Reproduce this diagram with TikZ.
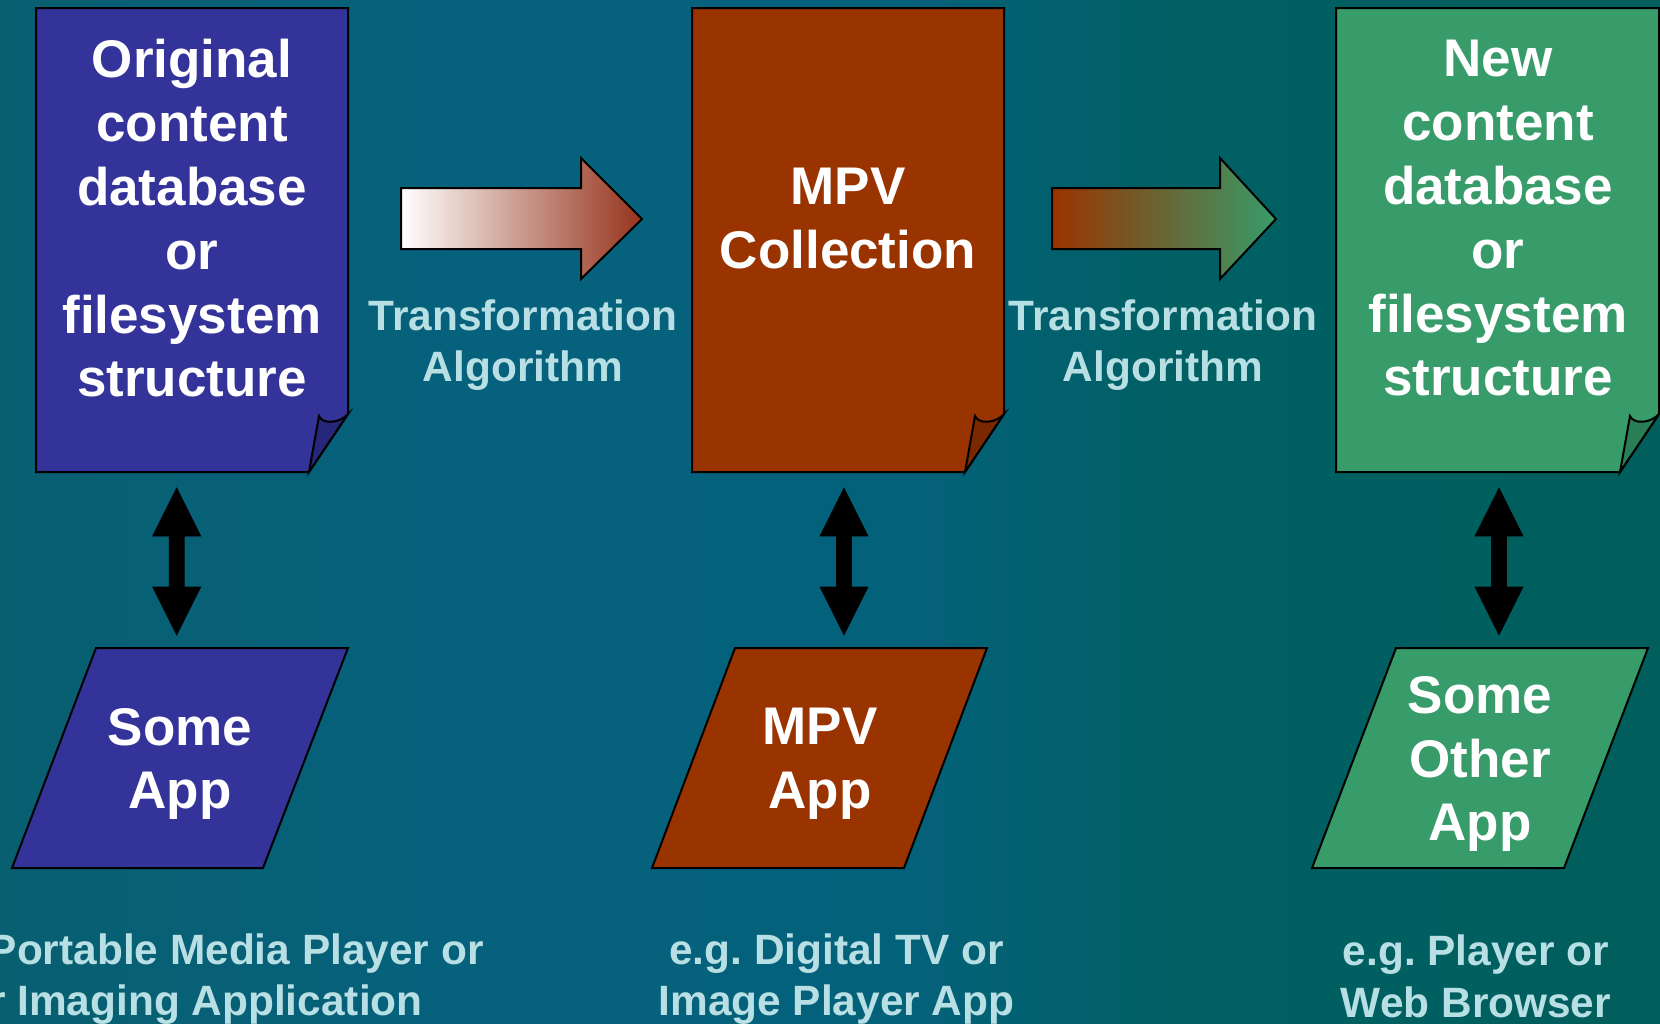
\documentclass[tikz,border=0pt]{standalone}
\usepackage{fontspec}
\setmainfont{Liberation Sans}
\usetikzlibrary{calc}
\frenchspacing
\definecolor{bgA}{RGB}{8,95,112}
\definecolor{bgB}{RGB}{5,97,125}
\definecolor{bgC}{RGB}{4,97,122}
\definecolor{bgD}{RGB}{0,96,100}
\definecolor{bgE}{RGB}{0,94,92}
\definecolor{docblue}{RGB}{51,51,153}
\definecolor{docbrown}{RGB}{153,51,0}
\definecolor{docgreen}{RGB}{56,155,106}
\definecolor{flapblue}{RGB}{38,38,122}
\definecolor{flapbrown}{RGB}{122,40,0}
\definecolor{flapgreen}{RGB}{42,126,86}
\definecolor{labelcol}{RGB}{184,223,227}
\definecolor{arwbrown}{RGB}{150,52,28}
\definecolor{arwpink}{RGB}{226,205,205}
\definecolor{arwmid}{RGB}{118,112,70}
\pgfdeclarehorizontalshading{bgshade}{100bp}{color(0bp)=(bgA); color(25bp)=(bgA); color(40bp)=(bgB); color(52.5bp)=(bgC); color(60bp)=(bgD); color(75bp)=(bgE); color(100bp)=(bgE)}
\tikzset{
  outline/.style={draw=black, line width=1pt, line join=miter},
  boxtext/.style={text=white, align=center, inner sep=0pt, font=\fontsize{26.5pt}{31.9pt}\selectfont\bfseries},
  lbltext/.style={text=labelcol, align=center, inner sep=0pt, font=\fontsize{21.2pt}{25.8pt}\selectfont\bfseries},
  dblarrow/.style={fill=black, draw=black, line width=0.3pt},
}
\begin{document}
\begin{tikzpicture}[x=0.5pt, y=-0.5pt]
\useasboundingbox (0,0) rectangle (1660,1023);
\shade[shading=bgshade] (0,0) rectangle (1660,1023);

% document boxes
\draw[outline, fill=docblue] (36,8) -- (348,8) -- (348,414) -- (309,472) -- (36,472) -- cycle;
\draw[outline, fill=flapblue] (309,472) -- (319,416) .. controls (322,424) and (339,424) .. (348,414) -- cycle;
\draw[outline, fill=docbrown] (692,8) -- (1004,8) -- (1004,414) -- (965,472) -- (692,472) -- cycle;
\draw[outline, fill=flapbrown] (965,472) -- (975,416) .. controls (978,424) and (995,424) .. (1004,414) -- cycle;
\draw[outline, fill=docgreen] (1336,8) -- (1659,8) -- (1659,414) -- (1620,472) -- (1336,472) -- cycle;
\draw[outline, fill=flapgreen] (1620,472) -- (1630,416) .. controls (1633,424) and (1650,424) .. (1659,414) -- cycle;

\node[boxtext] (doc1) at (192,218.5) {Original\\content\\database\\or\\filesystem\\structure};
\node[boxtext] (doc2) at (848,218.5) {MPV\\Collection};
\node[boxtext] (doc3) at (1498,218.5) {New\\content\\database\\or\\filesystem\\structure};

% app parallelograms
\draw[outline, fill=docblue] (96,648) -- (348,648) -- (263,868) -- (12,868) -- cycle;
\draw[outline, fill=docbrown] (735,648) -- (987,648) -- (904,868) -- (652,868) -- cycle;
\draw[outline, fill=docgreen] (1396,648) -- (1648,648) -- (1564,868) -- (1312,868) -- cycle;

\node[boxtext] (app1) at (180,764) {Some\\App};
\node[boxtext] (app2) at (820,764) {MPV\\App};
\node[boxtext] (app3) at (1480,764) {Some\\Other\\App};

% block arrows
\shade[outline, left color=white, middle color=arwpink, right color=arwbrown]
  (401,188) -- (581,188) -- (581,158) -- (642,219) -- (581,279) -- (581,249) -- (401,249) -- cycle;
\shade[outline, left color=docbrown, middle color=arwmid, right color=docgreen]
  (1052,188) -- (1220,188) -- (1220,158) -- (1276,219) -- (1220,279) -- (1220,249) -- (1052,249) -- cycle;

\node[lbltext] (lbl1) at (523,345) {Transformation\\Algorithm};
\node[lbltext] (lbl2) at (1163,345) {Transformation\\Algorithm};

% double arrows between documents and apps
\coordinate (d1) at (176.7,488); \coordinate (a1) at (176.7,635);
\coordinate (d2) at (844,488);   \coordinate (a2) at (844,635);
\coordinate (d3) at (1499,488);  \coordinate (a3) at (1499,635);
\foreach \t/\b in {d1/a1, d2/a2, d3/a3}{
  \draw[dblarrow] (\t) -- ($(\t)+(24,48)$) -- ($(\t)+(7.5,48)$) -- ($(\b)+(7.5,-48)$) -- ($(\b)+(24,-48)$) -- (\b)
    -- ($(\b)+(-24,-48)$) -- ($(\b)+(-7.5,-48)$) -- ($(\t)+(-7.5,48)$) -- ($(\t)+(-24,48)$) -- cycle;
}

% notes
\node[lbltext, anchor=base east] (note1a) at (484,964) {Portable Media Player or};
\node[lbltext, anchor=base east] (note1b) at (423,1015) {r Imaging Application};
\node[lbltext] (note2) at (836.5,979) {e.g. Digital TV or\\Image Player App};
\node[lbltext] (note3) at (1476,976.5) {e.g. Player or\\Web Browser};
\end{tikzpicture}
\end{document}
